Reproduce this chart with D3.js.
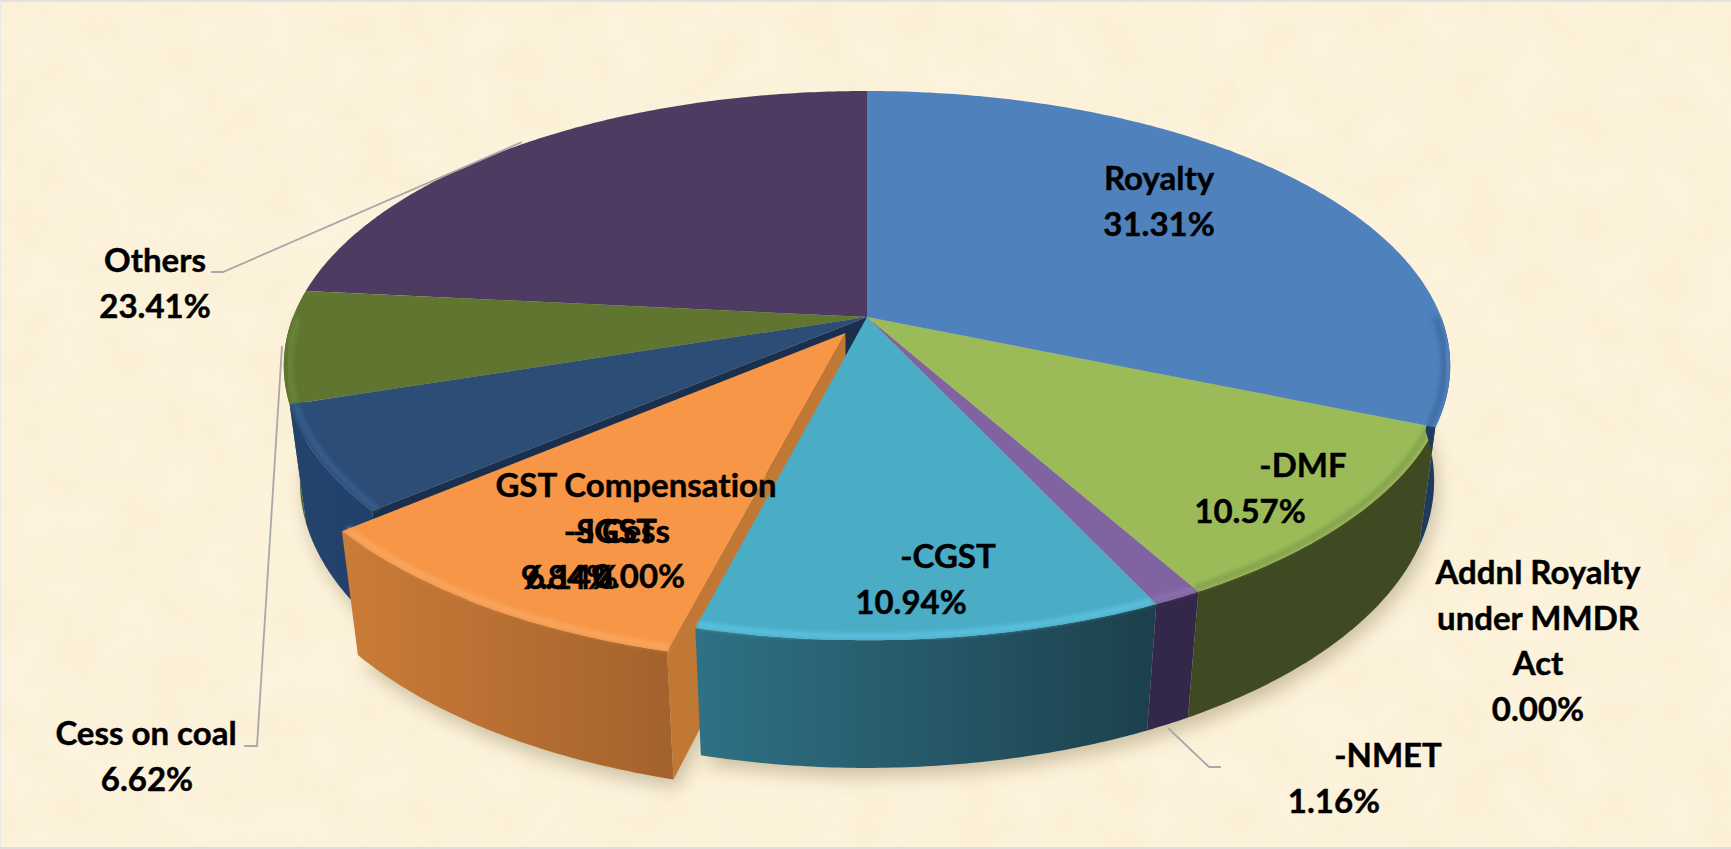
<!DOCTYPE html>
<html>
<head>
<meta charset="utf-8">
<script src="https://d3js.org/d3.v7.min.js"></script>
<style>
  html, body { margin: 0; padding: 0; background: #fdf3dc; }
  svg { display: block; }
  text { font-family: Lato, "Open Sans", sans-serif; font-weight: 700; fill: #000; stroke: #000; stroke-width: 0.45px; font-variant-ligatures: none; }
</style>
</head>
<body>
<svg id="chart"></svg>
<script>
const categories = ["Royalty", "Addnl Royalty under MMDR Act", "DMF", "NMET", "CGST", "SGST", "IGST", "GST Compensation Cess", "Cess on coal", "Others"];
const shares = [31.31, 0.00, 10.57, 1.16, 10.94, 9.84, 6.14, 0.00, 6.62, 23.41];
const labelLines = [["Royalty"], ["Addnl Royalty", "under MMDR", "Act"], ["-DMF"], ["-NMET"], ["-CGST"], ["-SGST"], ["-IGST"], ["GST Compensation", "Cess"], ["Cess on coal"], ["Others"]];
const explodedSlice = "SGST";

const topColors = ["#4f81bd", "#c0504d", "#9bbb59", "#8064a2", "#4bacc6", "#f79646", "#2c4d75", "#772c2a", "#5f7530", "#4d3b62"];
const wallLeft = ["#1e3a5f", "#772c2a", "#404a22", "#33284a", "#2f7185", "#cb7c38", "#24446e", "#772c2a", "#4f6428", "#33284a"];
const wallRight = ["#1e3a5f", "#772c2a", "#404a22", "#33284a", "#1c404c", "#a3622c", "#20406a", "#772c2a", "#4f6428", "#33284a"];
const rimColors = ["#3a6699", null, "#7f9a48", "#8f74b0", "#5fc8e8", "#fbab68", "#3b6597", null, "#6f8a3a", null];

// nameX, valueX, first baseline
const labelPos = [
  [1159, 1159, 190], [1538, 1538, 584], [1303, 1250, 477], [1388, 1334, 767], [948, 911, 568],
  [610, 567, 543], [615, 572, 543], [636, 639, 497], [146, 147, 745], [155, 155, 272]
];
const leaders = [
  [[211, 272], [223, 272], [522, 142]],
  [[244, 746], [257, 746], [282, 346]],
  [[1168, 728], [1209, 767], [1221, 767]]
];

const width = 1731, height = 849;
const fontSize = 33, lineHeight = 45.5;

// perspective of the disc: screen = centre + (A x, B v + D depth) / (1 - k v + m depth)
const cx = 867, cy = 317, A = 574, B = 266, D = 117.5, k = 0.177, m = 0.0275;
const explode = 0.07;

function project(angle, r, off, depth) {
  let x = r * Math.sin(angle) + off[0];
  let v = -r * Math.cos(angle) + off[1];
  let w = 1 - k * v + m * depth;
  return [cx + A * x / w, cy + (B * v + D * depth) / w];
}

function rim(a0, a1, off, depth, r = 1) {
  let n = Math.max(2, Math.ceil((a1 - a0) / 0.01));
  return d3.range(n + 1).map(i => project(a0 + (a1 - a0) * i / n, r, off, depth));
}

let line = d3.line();
let svg = d3.select("#chart").attr("width", width).attr("height", height);
let defs = svg.append("defs");

// parchment background
let paper = defs.append("filter").attr("id", "paper").attr("x", 0).attr("y", 0).attr("width", "100%").attr("height", "100%");
paper.append("feTurbulence").attr("type", "fractalNoise").attr("baseFrequency", 0.02).attr("numOctaves", 4).attr("seed", 7);
paper.append("feColorMatrix").attr("type", "matrix")
  .attr("values", "0 0 0 0 0.92  0 0 0 0 0.82  0 0 0 0 0.58  1.6 0 0 0 -0.62");

defs.append("filter").attr("id", "shadowBlur").attr("x", "-10%").attr("y", "-10%").attr("width", "120%").attr("height", "120%")
  .append("feGaussianBlur").attr("stdDeviation", 9);
defs.append("filter").attr("id", "rimBlur").attr("x", "-10%").attr("y", "-10%").attr("width", "120%").attr("height", "120%")
  .append("feGaussianBlur").attr("stdDeviation", 2);

svg.append("rect").attr("width", width).attr("height", height).attr("fill", "#fdf3dc");
svg.append("rect").attr("width", width).attr("height", height).attr("filter", "url(#paper)").attr("opacity", 0.5);
svg.append("rect").attr("width", width).attr("height", 2).attr("fill", "#e2e2e0");
svg.append("rect").attr("width", 1).attr("height", height).attr("fill", "#e8e8e4");
svg.append("rect").attr("y", 847).attr("width", width).attr("height", 2).attr("fill", "#dedede");

let slices = d3.pie().sort(null).value(d => d)(shares).map((s, i) => {
  let mid = (s.startAngle + s.endAngle) / 2;
  let off = categories[i] == explodedSlice ? [explode * Math.sin(mid), -explode * Math.cos(mid)] : [0, 0];
  return { i, a0: s.startAngle, a1: s.endAngle, off };
});

// soft shadow under the pie
let shadow = svg.append("g").attr("filter", "url(#shadowBlur)").attr("transform", "translate(4,9)")
  .attr("fill", "#8d7d58").attr("opacity", 0.42);
slices.filter(s => s.a1 > s.a0).forEach(s => {
  shadow.append("path").attr("d", line([project(0, 0, s.off, 1)].concat(rim(s.a0, s.a1, s.off, 1))) + "Z");
});

// painted back to front, last slices first so the exploded one sits under CGST
let pie = svg.append("g");
slices.slice().reverse().filter(s => s.a1 > s.a0).forEach(s => {
  let i = s.i;
  let g = pie.append("g").attr("class", "slice");

  // face opened by the exploded neighbour
  if (i > 0 && categories[i - 1] == explodedSlice) {
    let face = [project(0, 0, s.off, 0), project(s.a0, 1, s.off, 0), project(s.a0, 1, s.off, 1), project(0, 0, s.off, 1)];
    g.append("path").attr("d", line(face) + "Z").attr("fill", "#1a2f4c");
  }

  // outer wall, only the part facing the viewer
  let w0 = Math.max(s.a0, Math.PI / 2), w1 = Math.min(s.a1, Math.PI * 1.5);
  if (w1 > w0) {
    let top = rim(w0, w1, s.off, 0), bottom = rim(w0, w1, s.off, 1).reverse();
    let xs = d3.extent(top.concat(bottom), d => d[0]);
    let grad = defs.append("linearGradient").attr("id", "wall" + i).attr("gradientUnits", "userSpaceOnUse")
      .attr("x1", xs[0]).attr("x2", xs[1]).attr("y1", 0).attr("y2", 0);
    grad.append("stop").attr("offset", 0).attr("stop-color", wallLeft[i]);
    grad.append("stop").attr("offset", 1).attr("stop-color", wallRight[i]);
    g.append("path").attr("d", line(top.concat(bottom)) + "Z").attr("fill", `url(#wall${i})`);
  }

  if (s.off[0] != 0) {
    let cut = [project(0, 0, s.off, 0), project(s.a0, 1, s.off, 0), project(s.a0, 1, s.off, 1), project(0, 0, s.off, 1)];
    g.append("path").attr("d", line(cut) + "Z").attr("fill", "#c27835");
  }

  g.append("path").attr("d", line([project(0, 0, s.off, 0)].concat(rim(s.a0, s.a1, s.off, 0))) + "Z")
    .attr("fill", topColors[i]);

  if (rimColors[i] && w1 > w0) {
    g.append("path").attr("d", line(rim(w0, w1, s.off, 0, 0.99)))
      .attr("fill", "none").attr("stroke", rimColors[i]).attr("stroke-width", 6)
      .attr("opacity", 0.75).attr("filter", "url(#rimBlur)");
  }
});

// leader lines
svg.append("g").selectAll("path").data(leaders).enter().append("path")
  .attr("d", d => line(d)).attr("fill", "none").attr("stroke", "#a8a8a8").attr("stroke-width", 1.8);

// labels
let fmt = d => d3.format(".2f")(d) + "%";
let labels = svg.append("g").attr("font-size", fontSize).attr("text-anchor", "middle");
labelLines.forEach((lines, i) => {
  let [nameX, valueX, y0] = labelPos[i];
  lines.forEach((t, j) => {
    labels.append("text").attr("x", nameX).attr("y", y0 + j * lineHeight).text(t);
  });
  labels.append("text").attr("x", valueX).attr("y", y0 + lines.length * lineHeight).text(fmt(shares[i]));
});
</script>
</body>
</html>
